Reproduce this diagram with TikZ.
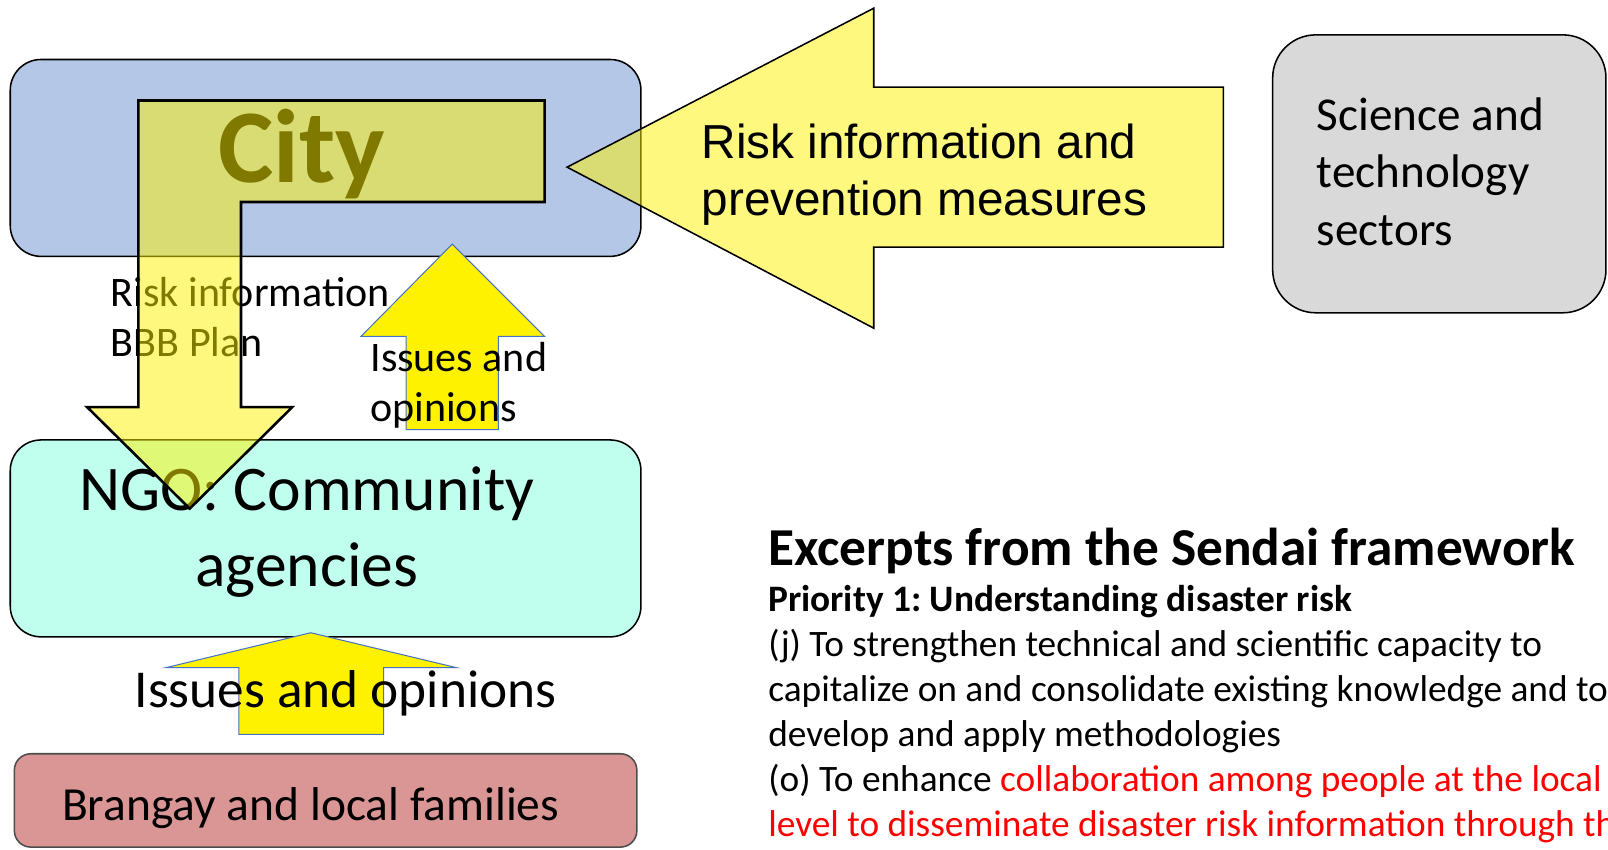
\documentclass[tikz,border=0pt]{standalone}
\usepackage{fontspec}
\setmainfont{Carlito}
\newfontfamily\arialfont{Liberation Sans}
\usepackage{tikz}
\definecolor{cityblue}{HTML}{B4C7E7}
\definecolor{ngomint}{HTML}{C0FFEE}
\definecolor{brangayrose}{HTML}{DA9694}
\definecolor{sciencegrey}{HTML}{D9D9D9}
\definecolor{arrowblue}{HTML}{4472C4}
\newcommand\bodysize{\fontsize{36.4}{44}\selectfont}
\frenchspacing

\begin{document}
\begin{tikzpicture}[x=1pt, y=-1pt,
        box/.style={draw=black, line width=1.5pt, rounded corners=30pt, inner sep=0pt},
        flowarrow/.style={draw=black, line width=2.5pt, fill=yellow, fill opacity=0.5},
        liftarrow/.style={draw=arrowblue, line width=1pt, fill=yellow},
        plain/.style={inner sep=0pt, anchor=base west, align=left}]
        \useasboundingbox (0,0) rectangle (1568,828);
        \clip (0,0) rectangle (1568,828);
        \node[box, fill=cityblue, minimum width=615pt, minimum height=192pt] (city) at (317.5,154) {};
        \node[box, fill=sciencegrey, rounded corners=42pt, minimum width=325pt, minimum height=271pt] (science) at (1403.5,169.5) {};
        \node[box, fill=ngomint, minimum width=615pt, minimum height=192pt] (ngo) at (317.5,525) {};
        \node[box, fill=brangayrose, draw=black!70, rounded corners=16pt, minimum width=607pt, minimum height=91pt] (brangay) at (317.5,780.5) {};
        \node[plain, anchor=base, font=\bfseries\fontsize{102}{120}\selectfont] (citytext) at (294,178) {City};
        \node[plain, font=\fontsize{41}{49}\selectfont] (downtext) at (108,348) {Risk information\\BBB Plan};
        \node[plain, font=\fontsize{46}{56}\selectfont] (sciencetext) at (1284,239) {Science and\\technology\\sectors};
        \node[plain, anchor=base, align=center, font=\fontsize{62}{74}\selectfont] (ngotext) at (299,572) {NGO: Community\\agencies};
        \draw[liftarrow] (441,238) -- (531,328) -- (486,328) -- (486,419) -- (396,419) -- (396,328) -- (352,328) -- cycle;
        \node[plain, font=\fontsize{41}{49}\selectfont] (uptext) at (361,411) {Issues and\\opinions};
        \draw[liftarrow] (303,617) -- (445,651) -- (374,651) -- (374,716) -- (233,716) -- (233,651) -- (162,651) -- cycle;
        \node[plain, anchor=base, font=\fontsize{52}{60}\selectfont] (basetext) at (337,690) {Issues and opinions};
        \node[plain, anchor=base, font=\fontsize{46.3}{55}\selectfont] (brangaytext) at (303,800) {Brangay and local families};
        \draw[flowarrow] (135,98) -- (531,98) -- (531,197) -- (235,197) -- (235,397) -- (285,397) -- (185,496) -- (85,397) -- (135,397) -- cycle;
        \draw[flowarrow, line width=1.5pt] (553,163) -- (852,8) -- (852,85) -- (1193,85) -- (1193,241) -- (852,241) -- (852,320) -- cycle;
        \node[plain, font=\arialfont\fontsize{46.5}{55}\selectfont] (risktext) at (684,210) {Risk information and\\prevention measures};
        \node[plain, font=\bfseries\fontsize{52}{60}\selectfont] (sendaititle) at (749,551) {Excerpts from the Sendai framework};
        \node[plain, font=\bodysize] (sendaibody) at (749,816) {\textbf{Priority 1: Understanding disaster risk}\\
            (j) To strengthen technical and scientific capacity to\\
            capitalize on and consolidate existing knowledge and to\\
            develop and apply methodologies\\
            (o) To enhance \textcolor{red}{collaboration among people at the local}\\
            \textcolor{red}{level to disseminate disaster risk information through the}};
\end{tikzpicture}
\end{document}
